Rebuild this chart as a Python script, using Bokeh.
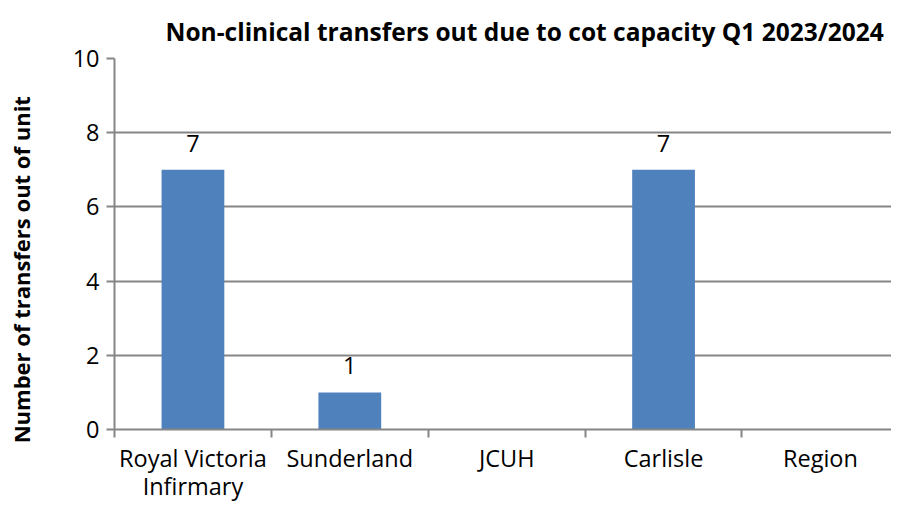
from bokeh.plotting import figure
from bokeh.models import ColumnDataSource, Range1d, FixedTicker, Title
from bokeh.embed import file_html
from bokeh.resources import INLINE
from bokeh.core.properties import value

categories = ["Royal Victoria Infirmary", "Sunderland", "JCUH", "Carlisle", "Region"]
tick_labels = ["Royal Victoria\nInfirmary", "Sunderland", "JCUH", "Carlisle", "Region"]
transfers = [7, 1, 0, 7, 0]
y_ticks = [0, 2, 4, 6, 8, 10]
title_text = "Non-clinical transfers out due to cot capacity Q1 2023/2024"
y_title = "Number of transfers out of unit"

FONT = "Open Sans"
GRID = "#868686"
BAR = "#4F81BD"

xs = [i + 0.5 for i in range(len(categories))]
src = ColumnDataSource(dict(x=xs, cat=categories, v=transfers))
lab = ColumnDataSource(dict(
    x=[x for x, v in zip(xs, transfers) if v > 0],
    v=[v for v in transfers if v > 0],
    t=[str(v) for v in transfers if v > 0],
))

p = figure(width=891, height=504, output_backend="svg", toolbar_location=None,
           x_range=Range1d(0, 4.953), y_range=Range1d(0, 10),
           min_border_left=114, min_border_right=0, min_border_top=58, min_border_bottom=74)
p.title = None
p.outline_line_color = None
p.background_fill_color = "white"
p.border_fill_color = "white"

p.vbar(x="x", top="v", width=0.4, bottom=0, source=src, fill_color=BAR, line_color=None)
p.text(x="x", y="v", text="t", source=lab, text_align="center", text_baseline="bottom",
       y_offset=-18, text_font=value(FONT), text_font_size="23.5px", text_color="black")

# grid
p.xgrid.grid_line_color = None
p.ygrid.ticker = FixedTicker(ticks=y_ticks)
p.ygrid.grid_line_color = GRID
p.ygrid.grid_line_width = 2

# y axis
ya = p.yaxis[0]
ya.ticker = FixedTicker(ticks=y_ticks)
ya.axis_line_color = GRID
ya.axis_line_width = 2
ya.major_tick_line_color = GRID
ya.major_tick_line_width = 2
ya.major_tick_in = 0
ya.major_tick_out = 8
ya.minor_tick_line_color = None
ya.major_label_text_font = FONT
ya.major_label_text_font_size = "23.5px"
ya.major_label_text_color = "black"
ya.major_label_standoff = 7
ya.axis_label = y_title + "\u00a0" * 9
ya.axis_label_text_font = FONT
ya.axis_label_text_font_size = "22px"
ya.axis_label_text_font_style = "bold"
ya.axis_label_text_color = "black"
ya.axis_label_standoff = 34

# x axis: category names centred, ticks at category boundaries
xa = p.xaxis[0]
xa.ticker = FixedTicker(ticks=xs, minor_ticks=list(range(len(categories) + 1)))
xa.major_label_overrides = {x: t for x, t in zip(xs, tick_labels)}
xa.major_tick_line_color = None
xa.minor_tick_line_color = GRID
xa.minor_tick_line_width = 2
xa.minor_tick_in = 0
xa.minor_tick_out = 8
xa.axis_line_color = GRID
xa.axis_line_width = 2
xa.major_label_text_font = FONT
xa.major_label_text_font_size = "23.5px"
xa.major_label_text_line_height = 0.875
xa.major_label_text_color = "black"
xa.major_label_standoff = 4

t = Title(text=title_text, text_font=FONT, text_font_size="24.5px", text_font_style="bold",
          text_color="black", align="left", offset=51, standoff=22)
p.add_layout(t, "above")

open("out.html", "w").write(file_html(p, INLINE))
